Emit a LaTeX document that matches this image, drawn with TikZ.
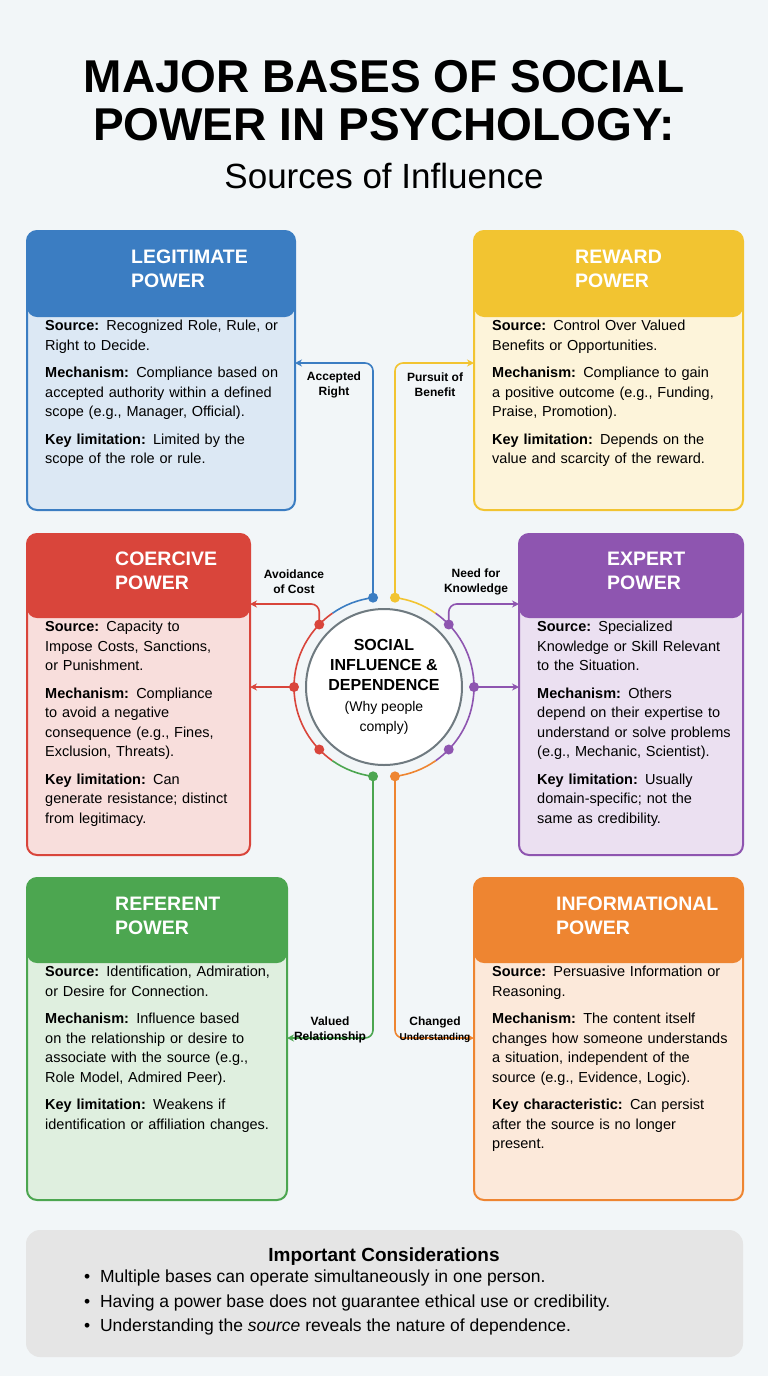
\documentclass[tikz,border=0pt]{standalone}
\usepackage{fontspec}
\setmainfont{Liberation Sans}
\usetikzlibrary{arrows.meta, positioning, calc}
\hyphenpenalty=10000
\exhyphenpenalty=10000
\definecolor{bgc}{HTML}{F2F6F8}
\definecolor{cblue}{HTML}{3B7DC2}
\definecolor{cyellow}{HTML}{F2C431}
\definecolor{cred}{HTML}{D9453B}
\definecolor{cpurple}{HTML}{8E55B0}
\definecolor{cgreen}{HTML}{4CA650}
\definecolor{corange}{HTML}{EE8531}
\definecolor{cgray}{HTML}{6F7A80}
\tikzstyle{arrow} = [line width=1.6pt, -{Stealth[length=7pt,width=7pt]}]
\tikzset{
  bodytext/.style={anchor=north west, align=left, font=\fontsize{14.5}{19.5}\selectfont, inner sep=0pt},
  headtext/.style={anchor=west, align=left, text=white, font=\fontsize{19.5}{24}\selectfont\bfseries, inner sep=0pt},
  linklabel/.style={align=center, font=\fontsize{12}{15}\selectfont\bfseries, inner sep=0pt},
  dot/.style={circle, fill=#1, inner sep=0pt, minimum size=10pt},
}
% box: name, x1, y1, x2, y2, header bottom, colour, title, body
\def\headx{88}
\newcommand{\powerbox}[9]{
  \pgfmathsetmacro\boxw{#4-#2-30}
  \fill[#7!18, rounded corners=10pt] (#2,#3) rectangle (#4,#5);
  \fill[#7, rounded corners=10pt] (#2,#3) rectangle (#4,#6+10);
  \fill[#7] (#2,#6-10) rectangle (#4,#6);
  \draw[#7, line width=2pt, rounded corners=10pt] (#2,#3) rectangle (#4,#5);
  \node[headtext] (#1-title) at (#2+\headx,{(#3+#6)/2}) {#8};
  \node[bodytext, text width=\boxw pt] (#1-body) at (#2+18,#6+13) {#9};
}
\begin{document}
\begin{tikzpicture}[x=1pt, y=-1pt]
  \useasboundingbox (0,0) rectangle (768,1376);
  \fill[bgc] (0,0) rectangle (768,1376);

  % title
  \node[font=\fontsize{46}{48}\selectfont\bfseries, align=center] (title) at (384,101) {MAJOR BASES OF SOCIAL\\POWER IN PSYCHOLOGY:};
  \node[font=\fontsize{35}{38}\selectfont] (subtitle) at (384,176) {Sources of Influence};

  % boxes
  \def\headx{104}
  \powerbox{legit}{27}{231}{295}{510}{307}{cblue}{LEGITIMATE\\POWER}{%
    \textbf{Source:} Recognized Role, Rule, or Right to Decide.\\[8pt]
    \textbf{Mechanism:} Compliance based on accepted authority within a defined scope (e.g., Manager, Official).\\[8pt]
    \textbf{Key limitation:} Limited by the scope of the role or rule.}
  \def\headx{101}
  \powerbox{reward}{474}{231}{743}{510}{307}{cyellow}{REWARD\\POWER}{%
    \textbf{Source:} Control Over Valued Benefits or Opportunities.\\[8pt]
    \textbf{Mechanism:} Compliance to gain a positive outcome (e.g., Funding, Praise, Promotion).\\[8pt]
    \textbf{Key limitation:} Depends on the value and scarcity of the reward.}
  \def\headx{88}
  \powerbox{coerc}{27}{534}{250}{855}{608}{cred}{COERCIVE\\POWER}{%
    \textbf{Source:} Capacity to Impose Costs, Sanctions, or Punishment.\\[8pt]
    \textbf{Mechanism:} Compliance to avoid a negative consequence (e.g., Fines, Exclusion, Threats).\\[8pt]
    \textbf{Key limitation:} Can generate resistance; distinct from legitimacy.}
  \powerbox{expert}{519}{534}{743}{855}{608}{cpurple}{EXPERT\\POWER}{%
    \textbf{Source:} Specialized Knowledge or Skill Relevant to the Situation.\\[8pt]
    \textbf{Mechanism:} Others depend on their expertise to understand or solve problems (e.g., Mechanic, Scientist).\\[8pt]
    \textbf{Key limitation:} Usually domain-specific; not the same as credibility.}
  \powerbox{refer}{27}{878}{287}{1200}{953}{cgreen}{REFERENT\\POWER}{%
    \textbf{Source:} Identification, Admiration, or Desire for Connection.\\[8pt]
    \textbf{Mechanism:} Influence based on the relationship or desire to associate with the source (e.g., Role Model, Admired Peer).\\[8pt]
    \textbf{Key limitation:} Weakens if identification or affiliation changes.}
  \def\headx{82}
  \powerbox{inform}{474}{878}{743}{1200}{953}{corange}{INFORMATIONAL\\POWER}{%
    \textbf{Source:} Persuasive Information or Reasoning.\\[8pt]
    \textbf{Mechanism:} The content itself changes how someone understands a situation, independent of the source (e.g., Evidence, Logic).\\[8pt]
    \textbf{Key characteristic:} Can persist after the source is no longer present.}

  % centre
  \node[circle, draw=cgray, line width=2pt, fill=white, minimum size=156pt, inner sep=0pt, align=center,
        font=\fontsize{16}{20}\selectfont\bfseries] (hub) at (384,687)
        {SOCIAL\\INFLUENCE \&\\DEPENDENCE\\[1pt]{\mdseries\fontsize{14}{17}\selectfont(Why people}\\{\mdseries\fontsize{14}{17}\selectfont comply)}};
  \draw[cblue, line width=1.6pt] (384,687) ++(-97:90) arc (-97:-125:90);
  \draw[cyellow, line width=1.6pt] (384,687) ++(-83:90) arc (-83:-55:90);
  \draw[cred, line width=1.6pt] (384,687) ++(-125:90) arc (-125:-235:90);
  \draw[cpurple, line width=1.6pt] (384,687) ++(-55:90) arc (-55:55:90);
  \draw[cgreen, line width=1.6pt] (384,687) ++(-235:90) arc (-235:-263:90);
  \draw[corange, line width=1.6pt] (384,687) ++(55:90) arc (55:83:90);

  \node[dot=cblue] (dlegit) at ($(384,687)+(-97:90)$) {};
  \node[dot=cyellow] (dreward) at ($(384,687)+(-83:90)$) {};
  \node[dot=cred] (dcoerc1) at ($(384,687)+(-136:90)$) {};
  \node[dot=cred] (dcoerc2) at ($(384,687)+(180:90)$) {};
  \node[dot=cred] (dcoerc3) at ($(384,687)+(136:90)$) {};
  \node[dot=cpurple] (dexpert1) at ($(384,687)+(-44:90)$) {};
  \node[dot=cpurple] (dexpert2) at ($(384,687)+(0:90)$) {};
  \node[dot=cpurple] (dexpert3) at ($(384,687)+(44:90)$) {};
  \node[dot=cgreen] (drefer) at ($(384,687)+(97:90)$) {};
  \node[dot=corange] (dinform) at ($(384,687)+(83:90)$) {};

  % connectors
  \coordinate (legit-in) at (295,363);
  \coordinate (reward-in) at (474,363);
  \coordinate (coerc-in1) at (250,604);
  \coordinate (coerc-in2) at (250,687);
  \coordinate (expert-in1) at (519,604);
  \coordinate (expert-in2) at (519,687);
  \coordinate (refer-in) at (287,1038);
  \coordinate (inform-in) at (474,1038);
  \draw[arrow, cblue, rounded corners=8pt] (dlegit.center) |- (legit-in);
  \draw[arrow, cyellow, rounded corners=8pt] (dreward.center) |- (reward-in);
  \draw[arrow, cred, rounded corners=8pt] (dcoerc1.center) |- (coerc-in1);
  \draw[arrow, cred] (dcoerc2.center) -- (coerc-in2);
  \draw[arrow, cpurple, rounded corners=8pt] (dexpert1.center) |- (expert-in1);
  \draw[arrow, cpurple] (dexpert2.center) -- (expert-in2);
  \draw[arrow, cgreen, rounded corners=8pt] (drefer.center) |- (refer-in);
  \draw[arrow, corange, rounded corners=8pt] (dinform.center) |- (inform-in);

  % link labels
  \node[linklabel] at (334,385) {Accepted\\Right};
  \node[linklabel] at (435,385) {Pursuit of\\Benefit};
  \node[linklabel] at (294,582) {Avoidance\\of Cost};
  \node[linklabel] at (476,582) {Need for\\Knowledge};
  \node[linklabel] at (330,1030) {Valued\\Relationship};
  \node[linklabel] at (435,1030) {Changed\\\fontsize{10}{12}\selectfont Understanding};

  % considerations
  \fill[gray!20, rounded corners=14pt] (26,1230) rectangle (743,1357);
  \node[font=\fontsize{19}{23}\selectfont\bfseries] (cons) at (384,1257) {Important Considerations};
  \node[anchor=north west, align=left, inner sep=0pt, font=\fontsize{17.5}{24.5}\selectfont] (cons-list) at (84,1270)
    {\textbullet\ \ Multiple bases can operate simultaneously in one person.\\
     \textbullet\ \ Having a power base does not guarantee ethical use or credibility.\\
     \textbullet\ \ Understanding the \textit{source} reveals the nature of dependence.};
\end{tikzpicture}
\end{document}
